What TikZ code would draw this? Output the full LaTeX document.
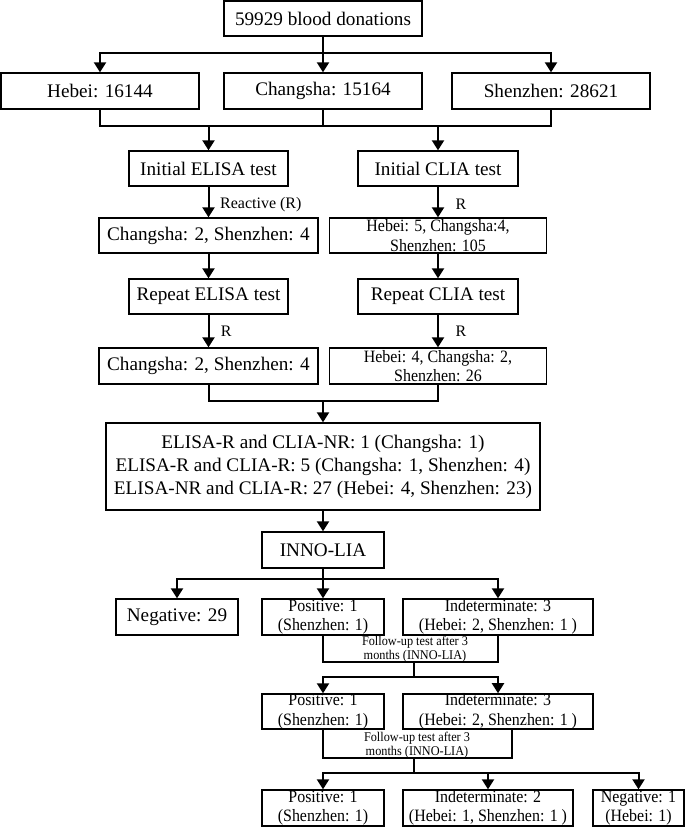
\documentclass[tikz,border=0pt]{standalone}
\usepackage{fontspec}
\setmainfont{Liberation Serif}
\newfontfamily\narrowserif[FakeStretch=0.92]{Liberation Serif}
\usetikzlibrary{arrows.meta}
\begin{document}
\begin{tikzpicture}[x=0.75pt,y=-0.75pt,
  bx/.style={draw, line width=1pt, inner sep=0pt, align=center, font=\fontsize{14.4}{17.25}\selectfont},
  rect/.style n args={4}{at={({(#1+#3)/2},{(#2+#4)/2})}, minimum width={(#3-#1)*0.75pt}, minimum height={(#4-#2)*0.75pt}},
  sm/.style={font=\narrowserif\fontsize{13}{14.6}\selectfont},
  ln/.style={line width=1.5pt},
  arr/.style={ln, -{Triangle[width=9pt,length=7.5pt]}},
  lbl/.style={font=\fontsize{12}{14}\selectfont, inner sep=0pt, anchor=west},
  fu/.style={font=\narrowserif\fontsize{10}{10.5}\selectfont, align=center, inner sep=0pt}]
\useasboundingbox (0,0) rectangle (685,827);
% boxes
\node[bx, rect={224}{1}{422}{36}] (top) {59929 blood donations};
\node[bx, rect={1}{73}{199}{109}] (hebei) {Hebei: 16144};
\node[bx, rect={224}{73}{422}{109}] (changsha) {Changsha: 15164};
\node[bx, rect={452}{73}{650}{109}] (shenzhen) {Shenzhen: 28621};
\node[bx, rect={129}{151}{288}{186}] (elisa) {Initial ELISA test};
\node[bx, rect={358}{151}{518}{186}] (clia) {Initial CLIA test};
\node[bx, rect={99}{218}{318}{253}] (c2a) {Changsha: 2, Shenzhen: 4};
\node[bx, sm, rect={329.5}{218}{546.5}{253}] (h5) {Hebei: 5, Changsha:4,\\Shenzhen: 105};
\node[bx, rect={129}{279}{288}{314}] (repE) {Repeat ELISA test};
\node[bx, rect={358}{279}{518}{314}] (repC) {Repeat CLIA test};
\node[bx, rect={99}{348}{318}{384}] (c2b) {Changsha: 2, Shenzhen: 4};
\node[bx, sm, rect={329.5}{348}{546.5}{384}] (h4) {Hebei: 4, Changsha: 2,\\Shenzhen: 26};
\node[bx, rect={106}{423}{540}{510}] (big) {ELISA-R and CLIA-NR: 1 (Changsha: 1)\\ELISA-R and CLIA-R: 5 (Changsha: 1, Shenzhen: 4)\\ELISA-NR and CLIA-R: 27 (Hebei: 4, Shenzhen: 23)};
\node[bx, rect={262}{532}{384}{568}] (inno) {INNO-LIA};
\node[bx, rect={116}{599}{238}{635}] (neg29) {Negative: 29};
\node[bx, sm, rect={262}{599}{384}{635}] (pos1) {Positive: 1\\(Shenzhen: 1)};
\node[bx, sm, rect={403}{599}{593}{635}] (ind3) {Indeterminate: 3\\(Hebei: 2, Shenzhen: 1 )};
\node[bx, sm, rect={262}{694}{384}{729}] (pos2) {Positive: 1\\(Shenzhen: 1)};
\node[bx, sm, rect={403}{694}{593}{729}] (ind3b) {Indeterminate: 3\\(Hebei: 2, Shenzhen: 1 )};
\node[bx, sm, rect={262}{790}{384}{826}] (pos3) {Positive: 1\\(Shenzhen: 1)};
\node[bx, sm, rect={403}{790}{573}{826}] (ind2) {Indeterminate: 2\\(Hebei: 1, Shenzhen: 1 )};
\node[bx, sm, rect={593}{790}{684}{826}] (neg1) {Negative: 1\\(Hebei: 1)};
% connectors
\coordinate (b1) at (323,53);
\draw[ln] (top.south) -- (b1);
\draw[arr] (b1) -- (changsha.north);
\draw[arr] (b1) -| (hebei.north);
\draw[arr] (b1) -| (shenzhen.north);
\coordinate (m1) at (323,126);
\draw[ln] (hebei.south) |- (m1) -| (shenzhen.south);
\draw[ln] (changsha.south) -- (m1);
\draw[arr] (m1 -| elisa.north) -- (elisa.north);
\draw[arr] (m1 -| clia.north) -- (clia.north);
\draw[arr] (elisa.south) -- (c2a.north) node[lbl, midway, xshift=8pt, yshift=-2pt] {Reactive (R)};
\draw[arr] (clia.south) -- (h5.north) node[lbl, midway, xshift=12.5pt, yshift=-2pt] {R};
\draw[arr] (c2a.south) -- (repE.north);
\draw[arr] (h5.south) -- (repC.north);
\draw[arr] (repE.south) -- (c2b.north) node[lbl, midway, xshift=8.5pt] {R};
\draw[arr] (repC.south) -- (h4.north) node[lbl, midway, xshift=12.5pt] {R};
\coordinate (m2) at (323,401);
\draw[ln] (c2b.south) |- (m2) -| (h4.south);
\draw[arr] (m2) -- (big.north);
\draw[arr] (big.south) -- (inno.north);
\coordinate (b3) at (323,579);
\draw[ln] (inno.south) -- (b3);
\draw[arr] (b3) -| (neg29.north);
\draw[arr] (b3) -- (pos1.north);
\draw[arr] (b3) -| (ind3.north);
\coordinate (u1) at (414,662);
\draw[ln] (pos1.south) |- (u1) -| (ind3.south);
\node[fu] (fu1) at (415,649) {Follow-up test after 3\\months (INNO-LIA)};
\coordinate (b4) at (414,677);
\draw[ln] (u1) -- (b4);
\draw[arr] (b4) -| (pos2.north);
\draw[arr] (b4) -| (ind3b.north);
\coordinate (u2) at (414,758);
\coordinate (r2) at (512,758);
\draw[ln] (pos2.south) |- (r2) -- (r2 |- ind3b.south);
\node[fu] (fu2) at (417,745) {Follow-up test after 3\\months (INNO-LIA)};
\coordinate (b5) at (414,773);
\draw[ln] (u2) -- (b5);
\draw[arr] (b5) -| (pos3.north);
\draw[arr] (b5) -| (ind2.north);
\draw[arr] (b5) -| (neg1.north);
\end{tikzpicture}
\end{document}
